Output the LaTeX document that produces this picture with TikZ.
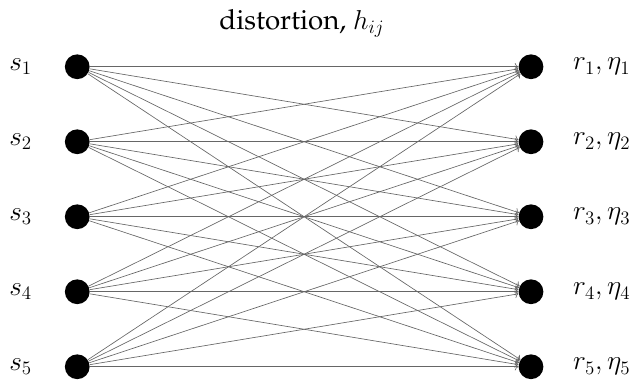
\documentclass[tikz,border=0pt]{standalone}
\usepackage{amsmath, amssymb}
\usepackage[T1]{fontenc}
\usepackage{palatino}
\usepackage{tikz}
\usetikzlibrary{arrows.meta, positioning, calc}

\begin{document}
\begin{tikzpicture}[
    dot/.style={circle, fill=black, minimum size=0.66cm, inner sep=0pt},
    lbl/.style={font=\fontsize{21}{25}\selectfont},
    link/.style={->, gray!80!black, line width=0.5pt}
]
\useasboundingbox (0,0) rectangle (16.96,-10.13);
\foreach \i in {1,...,5} {
  \node[dot] (s\i) at (2.06, {-1.78-2*(\i-1)}) {};
  \node[dot] (r\i) at (14.16, {-1.78-2*(\i-1)}) {};
  \node[lbl] (ls\i) at (0.55, {-1.78-2*(\i-1)}) {$s_\i$};
  \node[lbl, right=0.66cm of r\i] (lr\i) {$r_\i, \eta_\i$};
}
\foreach \i in {1,...,5}
  \foreach \j in {1,...,5}
    \draw[link] (s\i) -- (r\j);
\node[lbl] (title) at (8.05, -0.62) {distortion, $h_{ij}$};
\end{tikzpicture}
\end{document}
